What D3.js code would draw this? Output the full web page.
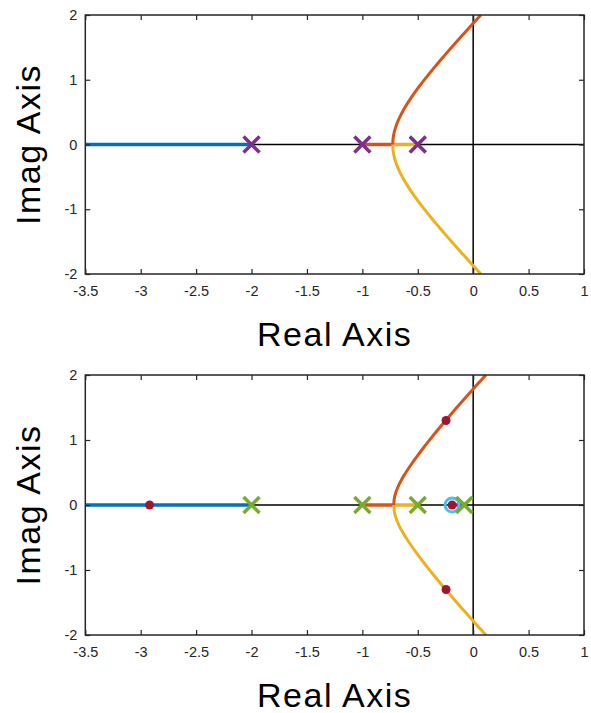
<!DOCTYPE html>
<html>
<head>
<meta charset="utf-8">
<script src="https://cdn.jsdelivr.net/npm/d3@7"></script>
<style>
  body { margin: 0; background: #fff; }
  text { font-family: "Liberation Sans", Arial, Helvetica, sans-serif; }
</style>
</head>
<body>
<div id="chart"></div>
<script>
// tick values
var xTicks = [-3.5, -3, -2.5, -2, -1.5, -1, -0.5, 0, 0.5, 1]
var yTicks = [-2, -1, 0, 1, 2]

// top plot: open loop poles, breakaway and upper complex branch (lower is its mirror)
var topPoles = [-2, -1, -0.5]
var topBreak = -0.7257
var topSigma = [-0.7257, -0.725, -0.723, -0.72, -0.715, -0.71, -0.70, -0.69, -0.68, -0.665, -0.65, -0.625, -0.6, -0.55, -0.5, -0.45, -0.4, -0.35, -0.3, -0.25, -0.2, -0.15, -0.1, -0.05, 0, 0.05, 0.0694]
var topOmega = [0, 0.043, 0.085, 0.123, 0.169, 0.206, 0.265, 0.314, 0.357, 0.414, 0.466, 0.545, 0.616, 0.747, 0.866, 0.979, 1.086, 1.191, 1.292, 1.392, 1.490, 1.587, 1.682, 1.777, 1.871, 1.964, 2.0]

// bottom plot: poles, zero, closed loop poles
var botPoles = [-2, -1, -0.5, -0.08]
var botZeros = [-0.19]
var botBreak = -0.7164
var botSigma = [-0.7164, -0.715, -0.713, -0.71, -0.705, -0.70, -0.69, -0.68, -0.665, -0.65, -0.625, -0.6, -0.55, -0.5, -0.45, -0.4, -0.35, -0.3, -0.25, -0.2, -0.15, -0.1, -0.05, 0, 0.05, 0.1, 0.115]
var botOmega = [0, 0.052, 0.082, 0.113, 0.151, 0.181, 0.231, 0.273, 0.329, 0.378, 0.452, 0.520, 0.646, 0.764, 0.877, 0.986, 1.092, 1.196, 1.297, 1.397, 1.496, 1.593, 1.689, 1.784, 1.879, 1.973, 2.0]
var clRe = [-2.92, -0.245, -0.245, -0.19]
var clIm = [0, 1.30, -1.30, 0]

var colors = ['#0072BD', '#D95319', '#EDB120', '#7E2F8E', '#77AC30', '#4DBEEE', '#A2142F']

var width = 591, height = 713
var left = 85.3, right = 584

var svg = d3.select('#chart').append('svg').attr('width', width).attr('height', height)

function drawPanel(id, top, bottom, cfg) {
  var x = d3.scaleLinear().domain([-3.5, 1]).range([left, right])
  var y = d3.scaleLinear().domain([-2, 2]).range([bottom, top])
  var g = svg.append('g')

  g.append('clipPath').attr('id', 'clip' + id)
    .append('rect').attr('x', left).attr('y', top).attr('width', right - left).attr('height', bottom - top)

  var plot = g.append('g').attr('clip-path', 'url(#clip' + id + ')')

  // axis lines through origin
  plot.append('line').attr('x1', left).attr('x2', right).attr('y1', y(0)).attr('y2', y(0))
    .attr('stroke', '#000').attr('stroke-width', 1.5)
  plot.append('line').attr('x1', x(0)).attr('x2', x(0)).attr('y1', top).attr('y2', bottom)
    .attr('stroke', '#000').attr('stroke-width', 1.5)

  var seg = function(a, b, c) {
    plot.append('line').attr('x1', x(a)).attr('x2', x(b)).attr('y1', y(0)).attr('y2', y(0))
      .attr('stroke', c).attr('stroke-width', 3.5)
  }
  var curve = d3.line().x(function(d) { return x(d[0]) }).y(function(d) { return y(d[1]) }).curve(d3.curveCatmullRom)
  var upper = cfg.sigma.map(function(s, i) { return [s, cfg.omega[i]] })
  var lower = cfg.sigma.map(function(s, i) { return [s, -cfg.omega[i]] })

  seg(-2, -3.5, colors[0])
  seg(-1, cfg.brk, colors[1])
  seg(-0.5, cfg.brk, colors[2])
  if (cfg.extra) seg(cfg.extra[0], cfg.extra[1], colors[3])
  plot.append('path').attr('d', curve(upper)).attr('fill', 'none').attr('stroke', colors[1]).attr('stroke-width', 3)
  plot.append('path').attr('d', curve(lower)).attr('fill', 'none').attr('stroke', colors[2]).attr('stroke-width', 3)

  // zeros
  cfg.zeros.forEach(function(z) {
    plot.append('circle').attr('cx', x(z)).attr('cy', y(0)).attr('r', 7)
      .attr('fill', 'none').attr('stroke', colors[5]).attr('stroke-width', 3)
  })
  // poles
  cfg.poles.forEach(function(p) {
    var cx = x(p), cy = y(0), s = 8
    plot.append('path').attr('d', 'M' + (cx - s) + ',' + (cy - s) + 'L' + (cx + s) + ',' + (cy + s) + 'M' + (cx - s) + ',' + (cy + s) + 'L' + (cx + s) + ',' + (cy - s))
      .attr('stroke', cfg.poleColor).attr('stroke-width', 3.5).attr('fill', 'none')
  })
  // closed loop poles
  if (cfg.clRe) {
    cfg.clRe.forEach(function(r, i) {
      plot.append('circle').attr('cx', x(r)).attr('cy', y(cfg.clIm[i])).attr('r', 4.5).attr('fill', colors[6])
    })
  }

  // axes
  var fmt = function(d) { return String(d) }
  var ax = g.append('g').attr('transform', 'translate(0,' + bottom + ')')
    .call(d3.axisBottom(x).tickValues(xTicks).tickSize(-5).tickPadding(12).tickFormat(fmt))
  var ay = g.append('g').attr('transform', 'translate(' + left + ',0)')
    .call(d3.axisLeft(y).tickValues(yTicks).tickSize(-5).tickPadding(8).tickFormat(fmt))
  var at = g.append('g').attr('transform', 'translate(0,' + top + ')')
    .call(d3.axisTop(x).tickValues(xTicks).tickSize(-5).tickFormat(''))
  var ar = g.append('g').attr('transform', 'translate(' + right + ',0)')
    .call(d3.axisRight(y).tickValues(yTicks).tickSize(-5).tickFormat(''))
  ;[ax, ay, at, ar].forEach(function(a) {
    a.select('.domain').remove()
    a.selectAll('line').attr('stroke', '#262626').attr('stroke-width', 1.2)
    a.selectAll('text').attr('fill', '#262626').style('font-size', '14.5px')
  })
  g.append('rect').attr('x', left).attr('y', top).attr('width', right - left).attr('height', bottom - top)
    .attr('fill', 'none').attr('stroke', '#262626').attr('stroke-width', 1.5)

  // titles
  g.append('text').attr('x', (left + right) / 2).attr('y', bottom + 72).attr('text-anchor', 'middle')
    .style('font-size', '34px').style('letter-spacing', '1.5px').attr('fill', '#000').text('Real Axis')
  g.append('text').attr('transform', 'translate(40,' + ((top + bottom) / 2) + ') rotate(-90)').attr('text-anchor', 'middle')
    .style('font-size', '34px').style('letter-spacing', '1.5px').attr('fill', '#000').text('Imag Axis')
}

drawPanel(1, 15, 274, { sigma: topSigma, omega: topOmega, brk: topBreak, poles: topPoles, zeros: [], poleColor: colors[3] })
drawPanel(2, 375, 635, { sigma: botSigma, omega: botOmega, brk: botBreak, poles: botPoles, zeros: botZeros, poleColor: colors[4], extra: [-0.08, -0.19], clRe: clRe, clIm: clIm })
</script>
</body>
</html>
